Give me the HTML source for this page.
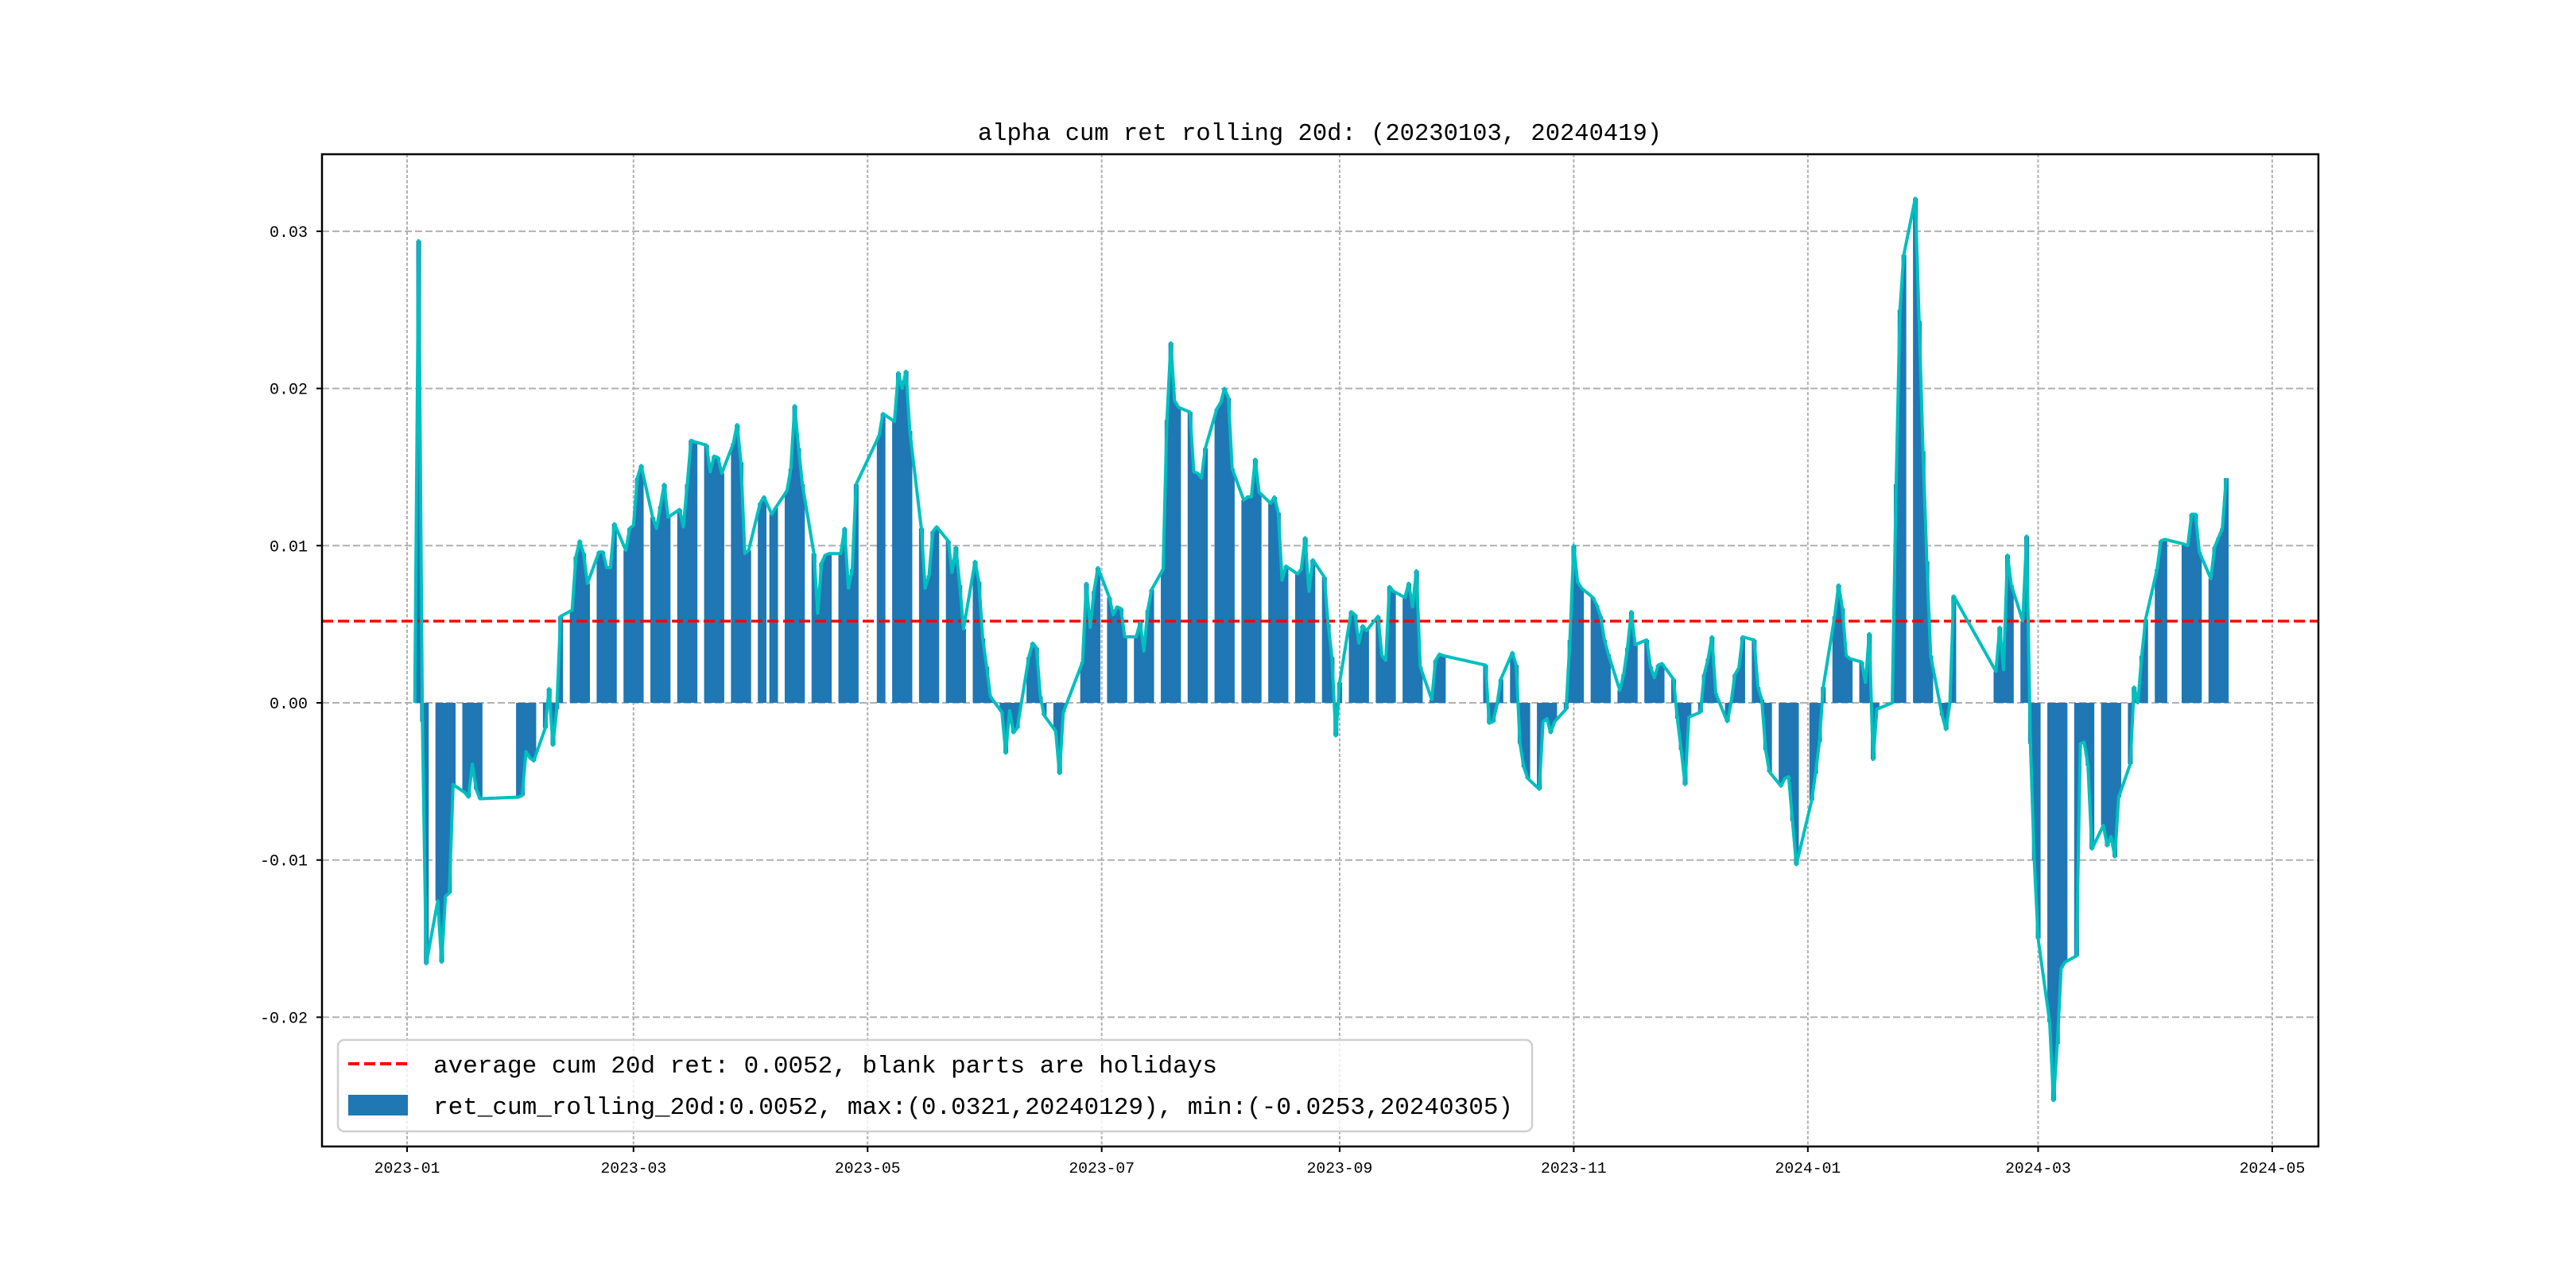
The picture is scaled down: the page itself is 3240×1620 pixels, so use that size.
<!DOCTYPE html>
<html><head><meta charset="utf-8"><style>
html,body{margin:0;padding:0;background:#fff;}
svg{display:block;}
text{font-family:"Liberation Mono","Noto Sans CJK SC",monospace;fill:#000;}
</style></head><body>
<svg id="chart" width="3240" height="1620" viewBox="0 0 3240 1620" xmlns="http://www.w3.org/2000/svg">
<rect x="0" y="0" width="3240" height="1620" fill="#fff"/>
<text x="1660" y="176" font-size="30.5" text-anchor="middle">alpha cum ret rolling 20d: (20230103, 20240419)</text>
<g id="grid"></g>
<g id="bars"></g>
<g id="avgline"></g>
<g id="series"></g>
<rect x="405" y="194" width="2511" height="1248" fill="none" stroke="#000" stroke-width="2.5"/>
<g id="ticks"></g>
<g id="legend">
  <rect x="425" y="1308" width="1502" height="115" rx="8" fill="#fff" fill-opacity="0.8" stroke="#d0d0d0" stroke-width="2.5"/>
  <line x1="438" y1="1338" x2="513" y2="1338" stroke="#ff0000" stroke-width="4" stroke-dasharray="14,6"/>
  <text x="545" y="1349" font-size="31">average cum 20d ret: 0.0052, blank parts are holidays</text>
  <rect x="438" y="1377" width="75" height="26" fill="#1f77b4"/>
  <text x="545" y="1401" font-size="31">ret_cum_rolling_20d:0.0052, max:(0.0321,20240129), min:(-0.0253,20240305)</text>
</g>
</svg>
<script>
const dates = ["20230103","20230104","20230105","20230106","20230109","20230110","20230111","20230112","20230113","20230116","20230117","20230118","20230119","20230120","20230130","20230131",
"20230201","20230202","20230203","20230206","20230207","20230208","20230209","20230210","20230213","20230214","20230215","20230216","20230217","20230220","20230221","20230222","20230223","20230224","20230227","20230228",
"20230301","20230302","20230303","20230306","20230307","20230308","20230309","20230310","20230313","20230314","20230315","20230316","20230317","20230320","20230321","20230322","20230323","20230324","20230327","20230328","20230329","20230330","20230331",
"20230403","20230404","20230406","20230407","20230410","20230411","20230412","20230413","20230414","20230417","20230418","20230419","20230420","20230421","20230424","20230425","20230426","20230427","20230428",
"20230504","20230505","20230508","20230509","20230510","20230511","20230512","20230515","20230516","20230517","20230518","20230519","20230522","20230523","20230524","20230525","20230526","20230529","20230530","20230531",
"20230601","20230602","20230605","20230606","20230607","20230608","20230609","20230612","20230613","20230614","20230615","20230616","20230619","20230620","20230621","20230626","20230627","20230628","20230629","20230630",
"20230703","20230704","20230705","20230706","20230707","20230710","20230711","20230712","20230713","20230714","20230717","20230718","20230719","20230720","20230721","20230724","20230725","20230726","20230727","20230728","20230731",
"20230801","20230802","20230803","20230804","20230807","20230808","20230809","20230810","20230811","20230814","20230815","20230816","20230817","20230818","20230821","20230822","20230823","20230824","20230825","20230828","20230829","20230830","20230831",
"20230901","20230904","20230905","20230906","20230907","20230908","20230911","20230912","20230913","20230914","20230915","20230918","20230919","20230920","20230921","20230922","20230925","20230926","20230927","20230928",
"20231009","20231010","20231011","20231012","20231013","20231016","20231017","20231018","20231019","20231020","20231023","20231024","20231025","20231026","20231027","20231030","20231031",
"20231101","20231102","20231103","20231106","20231107","20231108","20231109","20231110","20231113","20231114","20231115","20231116","20231117","20231120","20231121","20231122","20231123","20231124","20231127","20231128","20231129","20231130",
"20231201","20231204","20231205","20231206","20231207","20231208","20231211","20231212","20231213","20231214","20231215","20231218","20231219","20231220","20231221","20231222","20231225","20231226","20231227","20231228","20231229",
"20240102","20240103","20240104","20240105","20240108","20240109","20240110","20240111","20240112","20240115","20240116","20240117","20240118","20240119","20240122","20240123","20240124","20240125","20240126","20240129","20240130","20240131",
"20240201","20240202","20240205","20240206","20240207","20240208","20240219","20240220","20240221","20240222","20240223","20240226","20240227","20240228","20240229",
"20240301","20240304","20240305","20240306","20240307","20240308","20240311","20240312","20240313","20240314","20240315","20240318","20240319","20240320","20240321","20240322","20240325","20240326","20240327","20240328","20240329",
"20240401","20240402","20240403","20240408","20240409","20240410","20240411","20240412","20240415","20240416","20240417","20240418","20240419"];
const values = [0,0.0294,-0.0012,-0.0166,-0.0126,-0.0165,-0.0123,-0.0121,-0.0052,-0.0057,-0.0060,-0.0039,-0.0055,-0.0061,-0.0060,-0.0059,
-0.0031,-0.0035,-0.0037,-0.0016,0.0009,-0.0027,-0.0004,0.0055,0.0059,0.0093,0.0103,0.0095,0.0076,0.0096,0.0096,0.0086,0.0086,0.0114,0.0097,0.0111,
0.0113,0.0143,0.0151,0.0118,0.0111,0.0125,0.0139,0.0118,0.0123,0.0112,0.0139,0.0167,0.0166,0.0164,0.0147,0.0157,0.0156,0.0146,0.0165,0.0177,0.0153,0.0095,0.0097,
0.0127,0.0131,0.0120,0.0124,0.0135,0.0149,0.0189,0.0162,0.0139,0.0095,0.0057,0.0089,0.0094,0.0095,0.0095,0.0111,0.0073,0.0085,0.0139,
0.0170,0.0184,0.0179,0.0210,0.0200,0.0211,0.0173,0.0111,0.0073,0.0081,0.0109,0.0112,0.0103,0.0083,0.0099,0.0075,0.0047,0.0090,0.0077,0.0041,
0.0023,0.0004,-0.0006,-0.0032,-0.0005,-0.0019,-0.0016,0.0029,0.0038,0.0035,0.0004,-0.0008,-0.0018,-0.0045,-0.0006,0.0026,0.0076,0.0048,0.0071,0.0086,
0.0067,0.0056,0.0061,0.0060,0.0042,0.0042,0.0051,0.0033,0.0059,0.0072,0.0085,0.0180,0.0229,0.0192,0.0188,0.0185,0.0147,0.0146,0.0143,0.0162,0.0187,
0.0191,0.0200,0.0194,0.0149,0.0129,0.0131,0.0131,0.0155,0.0134,0.0127,0.0131,0.0121,0.0078,0.0087,0.0082,0.0085,0.0105,0.0071,0.0091,0.0080,0.0050,0.0029,-0.0021,
0.0013,0.0058,0.0056,0.0038,0.0049,0.0046,0.0055,0.0030,0.0027,0.0074,0.0071,0.0067,0.0076,0.0061,0.0084,0.0023,0.0002,0.0027,0.0031,0.0030,
0.0024,-0.0013,-0.0012,-0.0001,0.0015,0.0032,0.0024,-0.0026,-0.0041,-0.0048,-0.0055,-0.0012,-0.0010,-0.0019,-0.0012,-0.0004,0.0040,
0.0100,0.0077,0.0073,0.0067,0.0062,0.0055,0.0040,0.0031,0.0008,0.0018,0.0035,0.0058,0.0037,0.0040,0.0023,0.0016,0.0024,0.0025,0.0015,-0.0010,-0.0030,-0.0052,
-0.0009,-0.0006,0.0018,0.0028,0.0042,0.0006,-0.0012,0.0000,0.0018,0.0022,0.0042,0.0040,0.0010,0.0002,-0.0030,-0.0044,-0.0053,-0.0048,-0.0047,-0.0075,-0.0103,
-0.0062,-0.0045,-0.0025,0.0010,0.0055,0.0075,0.0060,0.0030,0.0028,0.0026,0.0013,0.0044,-0.0036,-0.0004,-0.0001,0.0000,0.0139,0.0250,0.0285,0.0321,0.0243,0.0160,
0.0090,0.0030,-0.0008,-0.0017,0.0000,0.0068,0.0020,0.0048,0.0021,0.0094,0.0075,0.0052,0.0106,-0.0026,-0.0100,
-0.0150,-0.0203,-0.0253,-0.0217,-0.0169,-0.0165,-0.0161,-0.0026,-0.0025,-0.0040,-0.0093,-0.0078,-0.0091,-0.0085,-0.0098,-0.0060,-0.0039,0.0010,0.0000,0.0030,0.0053,
0.0085,0.0103,0.0104,0.0101,0.0100,0.0120,0.0120,0.0096,0.0079,0.0099,0.0105,0.0111,0.0143];
const averageValue = 0.0052;
const yTicks = [-0.02,-0.01,0.00,0.01,0.02,0.03];
const yTickLabels = ["-0.02","-0.01","0.00","0.01","0.02","0.03"];
const xTicks = ["2023-01","2023-03","2023-05","2023-07","2023-09","2023-11","2024-01","2024-03","2024-05"];

const NS = "http://www.w3.org/2000/svg";
const X0 = 512, PXD = 4.827, Y0 = 884, PXV = 19770;
const BASE = Date.UTC(2023,0,1);
function dayOf(s){ return (Date.UTC(+s.slice(0,4), +s.slice(4,6)-1, +s.slice(6,8)) - BASE)/86400000; }
function xs(d){ return X0 + PXD*d; }
function ys(v){ return Y0 - v*PXV; }
function mk(tag, attrs, parent){ const e=document.createElementNS(NS,tag); for(const k in attrs) e.setAttribute(k, attrs[k]); parent.appendChild(e); return e; }

const grid = document.getElementById('grid');
const ticks = document.getElementById('ticks');
yTicks.forEach((v,i)=>{
  const y = ys(v);
  const g = mk('line',{x1:405,x2:2916,y1:y,y2:y,stroke:'#b0b0b0','stroke-width':2,'stroke-dasharray':'9,4'},grid);
  
  
  const t = mk('line',{x1:398,x2:405,y1:y,y2:y,stroke:'#000','stroke-width':2},ticks);
  
  
  const l = mk('text',{x:387,y:y+7,'font-size':20,'text-anchor':'end'},ticks);
  l.textContent = yTickLabels[i];
  
  
});
xTicks.forEach(s=>{
  const x = xs(dayOf(s.replace('-','')+'01'));
  const g = mk('line',{x1:x,x2:x,y1:194,y2:1442,stroke:'#b0b0b0','stroke-width':2,'stroke-dasharray':'4,2.5'},grid);
  
  
  const t = mk('line',{x1:x,x2:x,y1:1442,y2:1449,stroke:'#000','stroke-width':2},ticks);
  
  
  const l = mk('text',{x:x,y:1475,'font-size':19.7,'text-anchor':'middle'},ticks);
  l.textContent = s;
  
  
});

const bars = document.getElementById('bars');
dates.forEach((s,i)=>{
  const d = dayOf(s), v = values[i];
  const y1 = ys(Math.max(v,0)), y2 = ys(Math.min(v,0));
  const r = mk('rect',{x:xs(d)-PXD/2-0.5,y:y1,width:PXD+1.2,height:Math.max(y2-y1,0),fill:'#1f77b4'},bars);
  
  
});

const avg = document.getElementById('avgline');
const al = mk('line',{x1:405,x2:2916,y1:ys(averageValue),y2:ys(averageValue),stroke:'#ff0000','stroke-width':3.5,'stroke-dasharray':'14,6'},avg);



const series = document.getElementById('series');
const pts = dates.map((s,i)=>xs(dayOf(s)).toFixed(1)+','+ys(values[i]).toFixed(1)).join(' ');
const pl = mk('polyline',{points:pts,fill:'none',stroke:'#00bfbf','stroke-width':4,'stroke-linejoin':'round'},series);


</script>
</body></html>
